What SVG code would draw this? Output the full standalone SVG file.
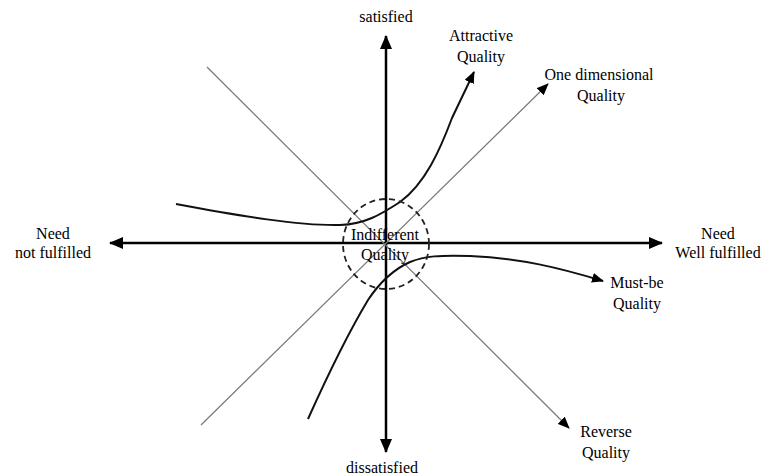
<svg xmlns="http://www.w3.org/2000/svg" width="764" height="476" viewBox="0 0 764 476">
<style>
text{font-family:"Liberation Serif","Times New Roman",serif;font-size:16px;fill:#000;text-anchor:middle}
.axis{stroke:#000;stroke-width:2.5;fill:none}
.diag{stroke:#777;stroke-width:1.2;fill:none}
.curve{stroke:#111;stroke-width:2;fill:none}
.ring{stroke:#222;stroke-width:1.8;fill:none;stroke-dasharray:6 4}
</style>
<defs>
<marker id="ax" markerUnits="userSpaceOnUse" markerWidth="14" markerHeight="12" refX="13" refY="6" orient="auto">
<path d="M0,0 L14,6 L0,12 Z" fill="#000"/>
</marker>
<marker id="ah" markerUnits="userSpaceOnUse" markerWidth="12" markerHeight="10" refX="11" refY="5" orient="auto">
<path d="M0,0 L12,5 L0,10 Z" fill="#000"/>
</marker>
</defs>
<g id="connectors">
<line class="axis" x1="386" y1="243" x2="386" y2="36" marker-end="url(#ax)"/>
<line class="axis" x1="386" y1="243" x2="386" y2="452" marker-end="url(#ax)"/>
<line class="axis" x1="386" y1="243" x2="110" y2="243" marker-end="url(#ax)"/>
<line class="axis" x1="386" y1="243" x2="662" y2="243" marker-end="url(#ax)"/>
<line class="diag" x1="207" y1="67" x2="569" y2="428" marker-end="url(#ah)"/>
<line class="diag" x1="201" y1="425" x2="548" y2="84" marker-end="url(#ah)"/>
<path class="curve" d="M176,204 C240,216 300,226 340,225 C365,224 380,215 400,202 C425,184 440,150 452,118 L474,72" marker-end="url(#ah)"/>
<path class="curve" d="M308,419 C330,370 350,330 368,300 C378,285 392,270 410,262 C425,256 440,255 470,256 C520,258 560,268 603,281" marker-end="url(#ah)"/>
</g>
<g id="indifferent">
<ellipse class="ring" cx="386" cy="244" rx="43" ry="45"/>
<text x="385" y="240">Indifferent</text>
<text x="385" y="260">Quality</text>
</g>
<g id="satisfied"><text x="386" y="22">satisfied</text></g>
<g id="dissatisfied"><text x="382" y="473">dissatisfied</text></g>
<g id="need-not"><text x="53" y="239">Need</text><text x="53" y="258">not fulfilled</text></g>
<g id="need-well"><text x="718" y="239">Need</text><text x="718" y="258">Well fulfilled</text></g>
<g id="attractive"><text x="481" y="41">Attractive</text><text x="481" y="62">Quality</text></g>
<g id="one-dimensional"><text x="599" y="80">One dimensional</text><text x="601" y="101">Quality</text></g>
<g id="must-be"><text x="637" y="288">Must-be</text><text x="637" y="309">Quality</text></g>
<g id="reverse"><text x="606" y="437">Reverse</text><text x="606" y="458">Quality</text></g>
</svg>
